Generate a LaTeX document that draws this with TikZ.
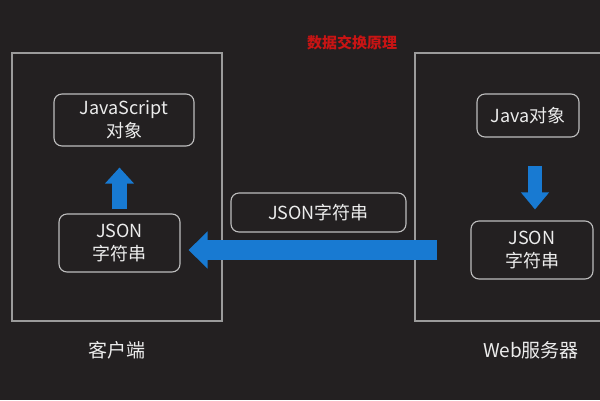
\documentclass[tikz,border=0pt]{standalone}
\usepackage{fontspec}
\setmainfont{Noto Sans CJK SC}
\usetikzlibrary{arrows.meta,calc}
\definecolor{bg}{RGB}{35,32,33}
\definecolor{frame}{RGB}{155,155,155}
\definecolor{boxline}{RGB}{190,190,190}
\definecolor{txt}{RGB}{236,236,236}
\definecolor{flow}{RGB}{24,122,210}
\definecolor{ttl}{RGB}{200,20,20}
\tikzset{
  outer/.style={draw=frame,line width=1.1pt,inner sep=0pt},
  rbox/.style={draw=boxline,line width=1.1pt,rounded corners=8pt,inner sep=0pt,text=txt,align=center,
    font=\fontsize{18}{23}\selectfont},
  lbl/.style={text=txt,font=\fontsize{19}{23}\selectfont,inner sep=0pt},
  flowarrow/.style={draw=flow,line width=#1},
}
\begin{document}
\begin{tikzpicture}[x=1pt,y=-1pt]
\fill[bg] (0,0) rectangle (600,400);
\useasboundingbox (0,0) rectangle (600,400);
% outer frames
\node[outer,minimum width=210pt,minimum height=268pt] (client) at (117,187) {};
\draw[frame,line width=1.1pt] (601,53) -- (415,53) -- (415,321) -- (601,321);
\coordinate (server) at (415,187);
% title
\node[text=ttl,font=\fontsize{15}{18}\selectfont\bfseries,inner sep=0pt] (title) at (352,43) {数据交换原理};
% boxes
\node[rbox,minimum width=140pt,minimum height=52pt] (js) at (124,120) {JavaScript\\对象};
\node[rbox,minimum width=121pt,minimum height=58pt] (jl) at (119.5,243) {JSON\\字符串};
\node[rbox,minimum width=175pt,minimum height=39pt] (mid) at (318.5,212.5) {JSON字符串};
\node[rbox,minimum width=102pt,minimum height=43pt] (jo) at (528,115.5) {Java对象};
\node[rbox,minimum width=122pt,minimum height=58pt] (rj) at (532,250) {JSON\\字符串};
% labels
\node[lbl] (cl) at (117,350) {客户端};
\node[lbl] (sl) at (531,350) {Web服务器};
% arrows
\draw[flowarrow=15pt,-{Triangle[width=28pt,length=16pt]}] ($(jl.north)+(0,-4)$) -- ($(jl.north |- js.south)+(0,21)$);
\draw[flowarrow=14pt,-{Triangle[width=27pt,length=17pt]}] ($(rj.north)+(3,-54)$) -- ($(rj.north)+(3,-11)$);
\draw[flowarrow=20pt,-{Triangle[width=36pt,length=19pt]}] ($(rj.west)+(-33,0)$) -- ($(jl.east)+(8,7)$);
\end{tikzpicture}
\end{document}
